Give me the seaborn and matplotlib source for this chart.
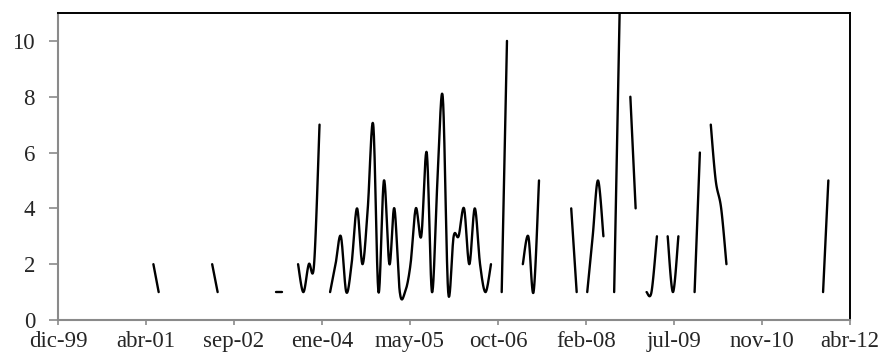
import numpy as np
import pandas as pd
import matplotlib
matplotlib.use('Agg')
import matplotlib.pyplot as plt
import matplotlib.dates as mdates
import seaborn as sns

# Cada tramo continuo de la serie mensual: mes de inicio y valores
tramos_inicio = ['2001-06', '2002-05', '2003-05', '2003-09', '2004-03',
                 '2006-11', '2007-03', '2007-12', '2008-03', '2008-08',
                 '2008-11', '2009-02', '2009-06', '2009-11', '2010-02',
                 '2011-11']
tramos_valores = [
    [2, 1],
    [2, 1],
    [1, 1],
    [2, 1, 2, 2, 7],
    [1, 2, 3, 1, 2, 4, 2, 4, 7, 1, 5, 2, 4, 1, 1, 2, 4, 3, 6, 1, 5, 8, 1,
     3, 3, 4, 2, 4, 2, 1, 2],
    [1, 10],
    [2, 3, 1, 5],
    [4, 1],
    [1, 3, 5, 3],
    [1, 11],
    [8, 4],
    [1, 1, 3],
    [3, 1, 3],
    [1, 6],
    [7, 5, 4, 2],
    [1, 5],
]

# Eje de fechas: marcas cada 500 dias
etiquetas_x = ['dic-99', 'abr-01', 'sep-02', 'ene-04', 'may-05',
               'oct-06', 'feb-08', 'jul-09', 'nov-10', 'abr-12']
inicio_eje = '1999-12-07'
paso_dias = 500
ticks_y = [0, 2, 4, 6, 8, 10]


def suavizar(x, y, n=24):
    '''Curva suavizada tipo Excel (Bezier con puntos vecinos).'''
    if len(x) < 3:
        return x, y
    p = np.column_stack([x, y])
    ext = np.vstack([p[0], p, p[-1]])
    xs, ys = [], []
    t = np.linspace(0, 1, n)[:, None]
    for i in range(len(p) - 1):
        b0 = ext[i + 1]
        b3 = ext[i + 2]
        b1 = b0 + (ext[i + 2] - ext[i]) / 6
        b2 = b3 - (ext[i + 3] - ext[i + 1]) / 6
        c = ((1 - t) ** 3) * b0 + 3 * ((1 - t) ** 2) * t * b1 \
            + 3 * (1 - t) * t ** 2 * b2 + t ** 3 * b3
        xs.append(c[:, 0])
        ys.append(c[:, 1])
    return np.concatenate(xs), np.concatenate(ys)


# Construir tabla para seaborn
filas = []
for k, (ini, vals) in enumerate(zip(tramos_inicio, tramos_valores)):
    fechas = pd.date_range(ini + '-01', periods=len(vals), freq='MS')
    x = mdates.date2num(fechas.to_pydatetime())
    xs, ys = suavizar(np.asarray(x, float), np.asarray(vals, float))
    filas.append(pd.DataFrame({'x': xs, 'y': ys, 'tramo': k}))
df = pd.concat(filas, ignore_index=True)

sns.set_style('white')
plt.rcParams['font.family'] = ['Liberation Serif', 'DejaVu Serif']

fig, ax = plt.subplots(figsize=(8.89, 3.56), dpi=100)
fig.subplots_adjust(left=58 / 889, right=850 / 889,
                    bottom=1 - 320 / 356, top=1 - 13 / 356)

sns.lineplot(data=df, x='x', y='y', units='tramo', estimator=None,
             sort=False, color='black', linewidth=1.7, ax=ax)

x0 = mdates.date2num(pd.Timestamp(inicio_eje).to_pydatetime())
posiciones = [x0 + i * paso_dias for i in range(len(etiquetas_x))]
ax.set_xlim(posiciones[0], posiciones[-1])
ax.set_xticks(posiciones)
ax.set_xticklabels(etiquetas_x)
ax.set_ylim(0, 11)
ax.set_yticks(ticks_y)
ax.set_xlabel('')
ax.set_ylabel('')

for s in ['left', 'bottom']:
    ax.spines[s].set_color('#8a8a8a')
    ax.spines[s].set_linewidth(1.5)
for s in ['top', 'right']:
    ax.spines[s].set_color('black')
    ax.spines[s].set_linewidth(1.4)

ax.tick_params(axis='y', length=6.5, width=1.2, color='#8a8a8a',
               pad=10, labelsize=16.5, left=True)
ax.tick_params(axis='x', length=3.6, width=1.2, color='#8a8a8a',
               pad=4, labelsize=16.5, bottom=True)

fig.savefig('out.png', dpi=100)
